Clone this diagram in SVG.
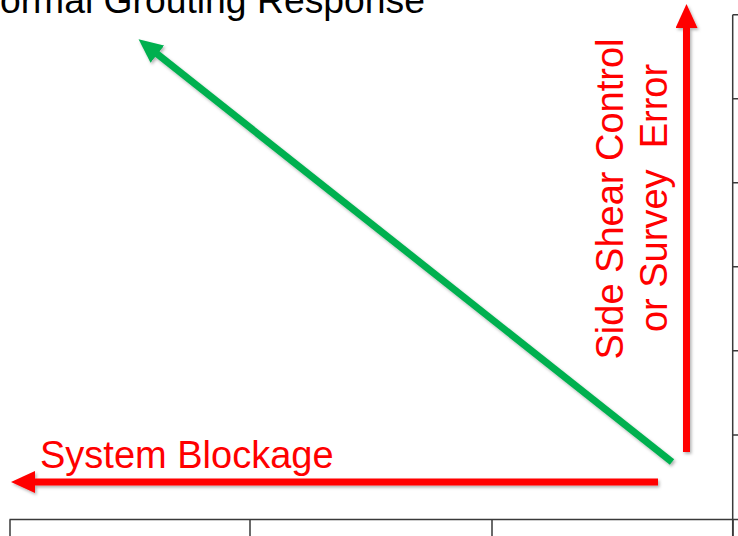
<svg xmlns="http://www.w3.org/2000/svg" width="738" height="536" viewBox="0 0 738 536">
  <style>
    .axis { stroke: #3a3a3a; stroke-width: 1.5; fill: none; }
    .lbl { font-family: "Liberation Sans", Arial, sans-serif; font-size: 37.3px; }
    .big { font-size: 38px; }
    .red { fill: #FF0000; }
    .arrR { stroke: #FF0000; stroke-width: 7; fill: none; marker-end: url(#headR); filter: url(#sh); }
    .arrG { stroke: #00B050; stroke-width: 7; fill: none; marker-end: url(#headG); filter: url(#sh); }
  </style>
  <defs>
    <filter id="sh" filterUnits="userSpaceOnUse" x="0" y="0" width="738" height="536">
      <feDropShadow dx="1.5" dy="2" stdDeviation="1.5" flood-color="#000" flood-opacity="0.3"/>
    </filter>
    <marker id="headR" viewBox="0 -11 24 22" refX="1" refY="0" markerWidth="24" markerHeight="22" markerUnits="userSpaceOnUse" orient="auto">
      <path d="M0,-11 L24,0 L0,11 z" fill="#FF0000"/>
    </marker>
    <marker id="headG" viewBox="0 -11 24 22" refX="1" refY="0" markerWidth="24" markerHeight="22" markerUnits="userSpaceOnUse" orient="auto">
      <path d="M0,-11 L24,0 L0,11 z" fill="#00B050"/>
    </marker>
  </defs>

  <g id="axes">
    <path class="axis" d="M732.7,14.7 V536 M732.7,14.7 H738 M732.7,98.7 H738 M732.7,182.7 H738 M732.7,266.7 H738 M732.7,350.7 H738 M732.7,435 H738"/>
    <path class="axis" d="M9.5,519.5 H738 M10,519.5 V536 M250,519.5 V536 M492,519.5 V536 M733,519.5 V536"/>
  </g>

  <g id="title">
    <text class="lbl" x="-27" y="13" fill="#000">Normal Grouting Response</text>
  </g>

  <g id="connectors">
    <line class="arrG" x1="672" y1="462" x2="156.6" y2="53.6"/>
    <line class="arrR" x1="658" y1="482" x2="34" y2="482"/>
    <line class="arrR" x1="686.5" y1="452" x2="686.5" y2="27"/>
  </g>

  <g id="system-blockage">
    <text class="lbl big red" x="40" y="468">System Blockage</text>
  </g>

  <g id="side-shear">
    <text class="lbl big red" text-anchor="middle" transform="translate(623,199) rotate(-90)">Side Shear Control</text>
    <text class="lbl big red" text-anchor="middle" xml:space="preserve" transform="translate(667,198) rotate(-90)">or Survey  Error</text>
  </g>
</svg>
